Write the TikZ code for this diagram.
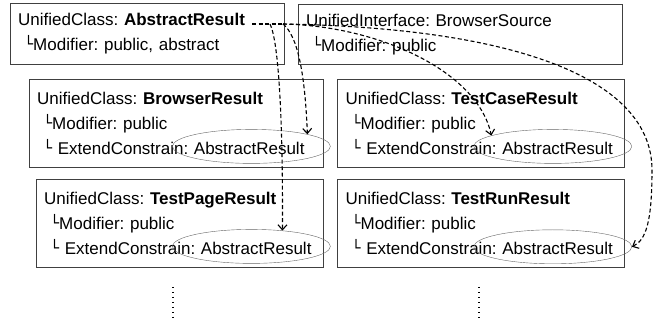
\documentclass[tikz,border=0pt]{standalone}
\usepackage{fontspec}
\setmainfont{Liberation Sans}
\newfontfamily\glyphfont{DejaVu Sans}
\usepackage{tikz}
\usetikzlibrary{
    arrows.meta,
    positioning,
    shapes.geometric
}
\frenchspacing

\newcommand{\branch}{\hspace*{6pt}{\glyphfont\fontsize{15}{15}\selectfont\raisebox{1pt}{└}}}

\begin{document}
\begin{tikzpicture}[
x=1pt, y=-1pt,
font=\fontsize{17}{25}\selectfont,
classbox/.style={
draw=black!75,
anchor=north west,
align=left,
inner xsep=8pt,
inner ysep=0pt,
minimum height=88pt,
text width=271pt
},
hl/.style={
ellipse,
draw=black!60,
minimum width=158pt,
minimum height=34pt,
inner sep=0pt
},
link/.style={
line width=1.1pt,
dash pattern=on 4pt off 2.5pt,
-{Straight Barb[length=5pt,width=9pt]}
}
]
\useasboundingbox (0,0) rectangle (665,323);

\node[classbox, text width=258pt, minimum height=61pt] (abs) at (10,3)
{UnifiedClass: \textbf{AbstractResult}\\
\branch Modifier: public, abstract};

\node[classbox, text width=308pt, minimum height=60pt] (bsrc) at (298,4)
{UnifiedInterface: BrowserSource\\
\branch Modifier: public};

\node[classbox, text width=278pt] (bres) at (29,79)
{UnifiedClass: \textbf{BrowserResult}\\
\branch Modifier: public\\
\branch\ ExtendConstrain: AbstractResult};

\node[classbox, right=14pt of bres] (tcase)
{UnifiedClass: \textbf{TestCaseResult}\\
\branch Modifier: public\\
\branch\ ExtendConstrain: AbstractResult};

\node[classbox] (tpage) at (36,179)
{UnifiedClass: \textbf{TestPageResult}\\
\branch Modifier: public\\
\branch\ ExtendConstrain: AbstractResult};

\node[classbox, below=12pt of tcase] (trun)
{UnifiedClass: \textbf{TestRunResult}\\
\branch Modifier: public\\
\branch\ ExtendConstrain: AbstractResult};

% highlighted constraints
\node[hl] (bres-hl) at ([shift={(-72pt,21pt)}]bres.south east) {};
\node[hl] (tcase-hl) at ([shift={(-72pt,21pt)}]tcase.south east) {};
\node[hl] (tpage-hl) at ([shift={(-72pt,21pt)}]tpage.south east) {};
\node[hl] (trun-hl) at ([shift={(-72pt,21pt)}]trun.south east) {};

% links from the abstract class
\coordinate (stub) at (252,24);
\coordinate (split) at (270,24);
\coordinate (fork) at (283,24);

\draw[link, -] (stub) -- (fork);
\draw[link] (fork) .. controls (298,36) and (305,75) .. (bres-hl.north east);
\draw[link] (split) .. controls (278,40) and (283,110) .. (tpage-hl.27);
\draw[link] (fork) .. controls (380,26) and (478,72) .. (tcase-hl.170);
\draw[link] (fork) .. controls (520,28) and (652,80) .. (652,170)
  .. controls (652,222) and (646,240) .. (trun-hl.east);

% more classes follow
\draw[line width=1.5pt, dash pattern=on 1.5pt off 3.5pt] (173,287) -- (173,321);
\draw[line width=1.5pt, dash pattern=on 1.5pt off 3.5pt] (479,287) -- (479,321);

\end{tikzpicture}
\end{document}
